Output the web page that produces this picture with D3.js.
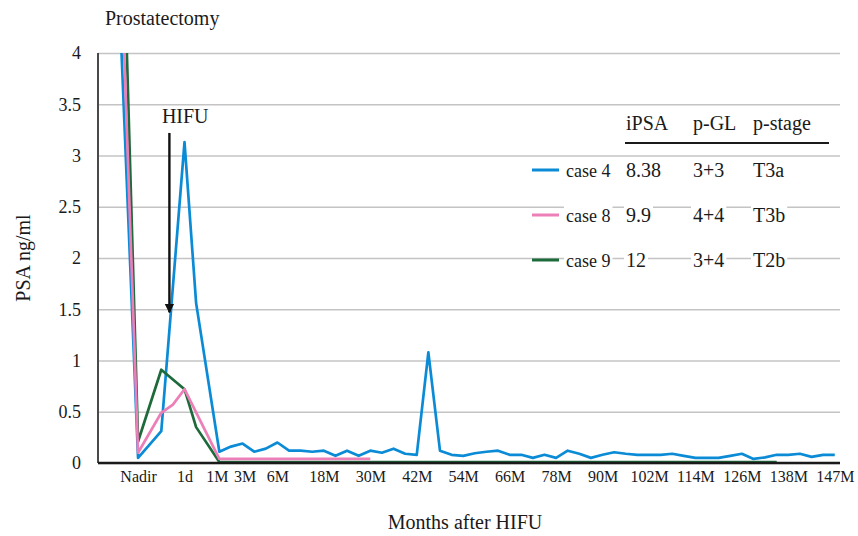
<!DOCTYPE html>
<html>
<head>
<meta charset="utf-8">
<script src="https://cdn.jsdelivr.net/npm/d3@7"></script>
<style>
  body { margin: 0; background: #fff; }
  svg text { font-family: "Liberation Serif", "Times New Roman", serif; fill: #1a1a1a; }
</style>
</head>
<body>
<svg id="chart" width="858" height="536"></svg>
<script>
// Kategorien (leer = ohne Beschriftung), erster Punkt = Prostatektomie
const categories = [
    "", "", "", "Nadir", "", "", "", "1d", "", "", "1M", "", "3M", "", "", "6M",
    "", "", "", "18M", "", "", "", "30M", "", "", "", "42M", "", "", "", "54M",
    "", "", "", "66M", "", "", "", "78M", "", "", "", "90M", "", "", "", "102M",
    "", "", "", "114M", "", "", "", "126M", "", "", "", "138M", "", "", "", "147M"
];

const case4 = [
    8.38, null, null, 0.05, null, 0.31, null, 3.13, 1.56, null, 0.11, 0.16, 0.19, 0.11, 0.14, 0.20,
    0.12, 0.12, 0.11, 0.12, 0.07, 0.12, 0.07, 0.12, 0.10, 0.14, 0.09, 0.08, 1.08, 0.12, 0.08, 0.07,
    0.095, 0.11, 0.12, 0.08, 0.08, 0.05, 0.08, 0.05, 0.12, 0.09, 0.05, 0.08, 0.105, 0.09, 0.08, 0.08,
    0.08, 0.09, 0.07, 0.05, 0.05, 0.05, 0.07, 0.09, 0.04, 0.055, 0.08, 0.08, 0.09, 0.06, 0.08, 0.08
];

const case8 = [
    9.9, null, null, 0.10, null, 0.49, 0.57, 0.72, null, null, 0.04, 0.04, 0.04, 0.04, 0.04, 0.04,
    0.04, 0.04, 0.04, 0.04, 0.04, 0.04, 0.04, 0.04
];

const case9 = [
    12, null, null, 0.21, null, 0.91, null, 0.72, 0.35, null, 0.01, 0.01, 0.01, 0.01, 0.01, 0.01,
    0.01, 0.01, 0.01, 0.01, 0.01, 0.01, 0.01, 0.01, 0.01, 0.01, 0.01, 0.01, 0.01, 0.01, 0.01, 0.01,
    0.01, 0.01, 0.01, 0.01, 0.01, 0.01, 0.01, 0.01, 0.01, 0.01, 0.01, 0.01, 0.01, 0.01, 0.01, 0.01,
    0.01, 0.01, 0.01, 0.01, 0.01, 0.01, 0.01, 0.01, 0.01, 0.01, 0.01
];

const yTicks = [0, 0.5, 1, 1.5, 2, 2.5, 3, 3.5, 4];

// Tabelle
const seriesNames = ["case 4", "case 8", "case 9"];
const tableHeader = ["iPSA", "p-GL", "p-stage"];
const iPSA = ["8.38", "9.9", "12"];
const pGL = ["3+3", "4+4", "3+4"];
const pStage = ["T3a", "T3b", "T2b"];

const colors = ["#0b8bd6", "#ec7fb8", "#1d6a3a"];

const svg = d3.select("#chart");
const plotLeft = 98, plotRight = 840, plotTop = 53, plotBottom = 463;

const x = d3.scalePoint()
    .domain(d3.range(categories.length))
    .range([plotLeft, plotRight])
    .padding(0.45);

const y = d3.scaleLinear()
    .domain([0, 4])
    .range([plotBottom, plotTop]);

// Gitterlinien
svg.append("g")
    .attr("transform", `translate(${plotLeft},0)`)
    .call(d3.axisLeft(y).tickValues(yTicks).tickSize(-(plotRight - plotLeft)).tickFormat(""))
    .call(g => g.select(".domain").remove())
    .call(g => g.selectAll("line").attr("stroke", "#c4c4c4").attr("stroke-width", 1.6));

// y-Achse Beschriftung
svg.append("g")
    .attr("transform", `translate(${plotLeft},0)`)
    .call(d3.axisLeft(y).tickValues(yTicks).tickSize(0).tickPadding(17).tickFormat(d3.format("")))
    .call(g => g.select(".domain").remove())
    .call(g => g.selectAll("text").style("font-size", "18px").attr("fill", "#1a1a1a"));

svg.append("line")
    .attr("x1", plotLeft).attr("x2", plotLeft)
    .attr("y1", plotTop).attr("y2", plotBottom)
    .attr("stroke", "#4a4a4a").attr("stroke-width", 2);

// Clip für Werte > 4
const defs = svg.append("defs");
defs.append("clipPath").attr("id", "plotClip")
    .append("rect")
    .attr("x", plotLeft).attr("y", plotTop)
    .attr("width", plotRight - plotLeft).attr("height", plotBottom - plotTop);

const line = d3.line()
    .x(d => x(d.i))
    .y(d => y(d.v));

const series = [case4, case8, case9];
const plot = svg.append("g").attr("clip-path", "url(#plotClip)");

// Reihenfolge: blau, grün, pink oben
[0, 2, 1].forEach(k => {
    const pts = series[k].map((v, i) => ({ i, v })).filter(d => d.v !== null);
    plot.append("path")
        .datum(pts)
        .attr("d", line)
        .attr("fill", "none")
        .attr("stroke", colors[k])
        .attr("stroke-width", 2.7)
        .attr("stroke-linejoin", "round");
});

// x-Achse
svg.append("line")
    .attr("x1", plotLeft).attr("x2", plotRight)
    .attr("y1", plotBottom).attr("y2", plotBottom)
    .attr("stroke", "#1a1a1a").attr("stroke-width", 2.4);

// kleine Verschiebung, damit sich "1M" und "3M" nicht berühren
const labelShift = { "1M": -2.5, "3M": 2 };

svg.append("g")
    .attr("transform", `translate(0,${plotBottom})`)
    .call(d3.axisBottom(x)
        .tickValues(d3.range(categories.length).filter(i => categories[i] !== ""))
        .tickFormat(i => categories[i])
        .tickSize(0).tickPadding(8))
    .call(g => g.select(".domain").remove())
    .call(g => g.selectAll("text")
        .style("font-size", "16px")
        .attr("fill", "#1a1a1a")
        .attr("dx", i => labelShift[categories[i]] || 0));

// Titel
svg.append("text").attr("x", 105).attr("y", 25).style("font-size", "20px").text("Prostatectomy");
svg.append("text").attr("x", 465).attr("y", 529).attr("text-anchor", "middle")
    .style("font-size", "20px").text("Months after HIFU");
svg.append("text").attr("transform", "translate(30,258) rotate(-90)").attr("text-anchor", "middle")
    .style("font-size", "20px").text("PSA ng/ml");

// HIFU Pfeil
defs.append("marker")
    .attr("id", "arrow")
    .attr("viewBox", "0 0 10 10")
    .attr("refX", 9).attr("refY", 5)
    .attr("markerWidth", 4).attr("markerHeight", 5)
    .attr("markerUnits", "strokeWidth")
    .attr("orient", "auto")
    .append("path").attr("d", "M0,0 L10,5 L0,10 Z").attr("fill", "#111");

const hx = x(6) - 3.5;
svg.append("text").attr("x", hx - 7.5).attr("y", y(3.32)).style("font-size", "20px").text("HIFU");
svg.append("line")
    .attr("x1", hx).attr("x2", hx)
    .attr("y1", y(3.22)).attr("y2", y(1.47))
    .attr("stroke", "#111").attr("stroke-width", 2.4)
    .attr("marker-end", "url(#arrow)");

// Tabelle / Legende
const table = svg.append("g");
const colX = [626, 693, 753];
const rowY = [170, 215, 260];

function boxedText(g, xPos, yPos, str, size) {
    const t = g.append("text").attr("x", xPos).attr("y", yPos)
        .attr("dy", "0.35em").style("font-size", size + "px").text(str);
    const b = t.node().getBBox();
    g.insert("rect", "text")
        .attr("x", b.x - 2).attr("y", b.y - 1)
        .attr("width", b.width + 4).attr("height", b.height + 2)
        .attr("fill", "#fff");
    return t;
}

tableHeader.forEach((h, j) => boxedText(table.append("g"), colX[j], 123, h, 20));
table.append("line")
    .attr("x1", 625).attr("x2", 829)
    .attr("y1", 143).attr("y2", 143)
    .attr("stroke", "#1a1a1a").attr("stroke-width", 2);

seriesNames.forEach((name, k) => {
    const row = table.append("g");
    row.append("line")
        .attr("x1", 532).attr("x2", 559)
        .attr("y1", rowY[k]).attr("y2", rowY[k])
        .attr("stroke", colors[k]).attr("stroke-width", 3);
    boxedText(row, 566, rowY[k] + 1, name, 18);
    boxedText(row, colX[0], rowY[k], iPSA[k], 20);
    boxedText(row, colX[1], rowY[k], pGL[k], 20);
    boxedText(row, colX[2], rowY[k], pStage[k], 20);
});
</script>
</body>
</html>
